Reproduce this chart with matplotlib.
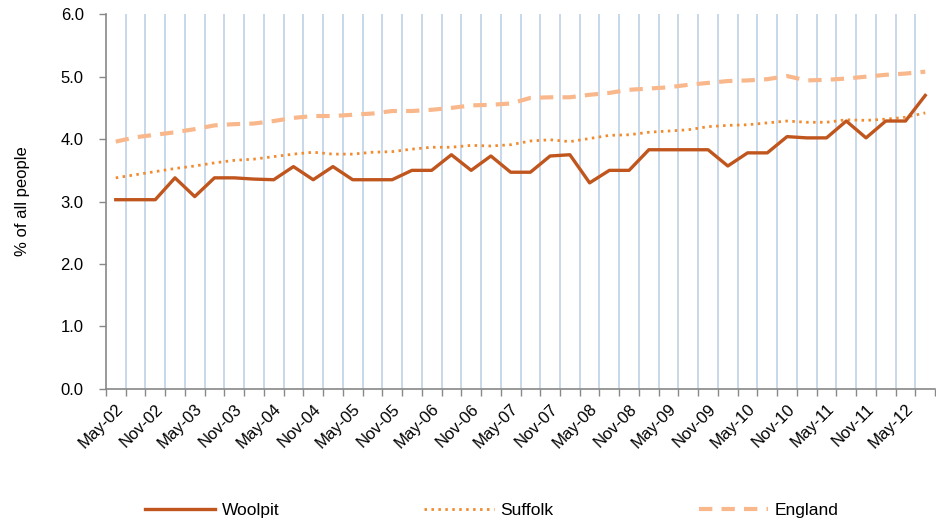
import numpy as np
import matplotlib
matplotlib.use("Agg")
import matplotlib.pyplot as plt
from matplotlib.ticker import FixedLocator, FormatStrFormatter

plt.rcParams['font.family'] = ['Liberation Sans', 'DejaVu Sans']

# quarterly series, May-02 .. Aug-12 (42 quarters)
woolpit = [3.03, 3.03, 3.03, 3.38, 3.08, 3.38, 3.38, 3.36, 3.35, 3.56,
           3.35, 3.56, 3.35, 3.35, 3.35, 3.50, 3.50, 3.75, 3.50, 3.73,
           3.47, 3.47, 3.73, 3.75, 3.30, 3.50, 3.50, 3.83, 3.83, 3.83,
           3.83, 3.57, 3.78, 3.78, 4.04, 4.02, 4.02, 4.29, 4.02, 4.29,
           4.29, 4.70]
suffolk = [3.38, 3.43, 3.48, 3.53, 3.57, 3.62, 3.66, 3.68, 3.72, 3.76,
           3.79, 3.76, 3.76, 3.79, 3.80, 3.84, 3.87, 3.87, 3.90, 3.89,
           3.91, 3.97, 3.99, 3.96, 4.01, 4.06, 4.07, 4.11, 4.13, 4.15,
           4.20, 4.22, 4.23, 4.26, 4.29, 4.27, 4.27, 4.31, 4.30, 4.32,
           4.35, 4.42]
england = [3.96, 4.03, 4.07, 4.11, 4.16, 4.22, 4.24, 4.25, 4.29, 4.34,
           4.37, 4.37, 4.39, 4.41, 4.45, 4.45, 4.47, 4.50, 4.54, 4.55,
           4.57, 4.66, 4.67, 4.67, 4.71, 4.74, 4.79, 4.81, 4.83, 4.87,
           4.90, 4.93, 4.94, 4.96, 5.01, 4.94, 4.95, 4.97, 5.00, 5.03,
           5.05, 5.08]
tick_labels = ['May-02', 'Nov-02', 'May-03', 'Nov-03', 'May-04', 'Nov-04',
               'May-05', 'Nov-05', 'May-06', 'Nov-06', 'May-07', 'Nov-07',
               'May-08', 'Nov-08', 'May-09', 'Nov-09', 'May-10', 'Nov-10',
               'May-11', 'Nov-11', 'May-12']

n = len(woolpit)
x = np.arange(n)

fig = plt.figure(figsize=(9.37, 5.27), dpi=100)
ax = fig.add_axes([0.113, 0.262, 0.885, 0.711])

ax.plot(x, england, color='#F9B88C', lw=3.0, ls=(0, (3.2, 2.2)), label='England', zorder=3)
ax.plot(x, suffolk, color='#F28A2E', lw=2.0, ls=(0, (0.9, 1.6)), label='Suffolk', zorder=4)
ax.plot(x, woolpit, color='#C0561E', lw=2.4, label='Woolpit', zorder=5)

ax.set_xlim(-0.5, n - 0.5)
ax.set_ylim(0, 6)

# category boundaries: ticks + vertical grid
bounds = np.arange(-0.5, n, 1.0)
ax.xaxis.set_major_locator(FixedLocator(bounds))
ax.xaxis.set_minor_locator(FixedLocator(x[::2]))
ax.set_xticklabels([], minor=False)
ax.set_xticklabels(tick_labels, minor=True, rotation=45, ha='right',
                   rotation_mode='anchor', fontsize=12)
ax.tick_params(axis='x', which='major', length=5, color='#888888', width=1)
ax.tick_params(axis='x', which='minor', length=0, pad=9)
for b in bounds[1:-1]:
    ax.axvline(b, color='#C5D5E8', lw=1.3, zorder=1)

ax.set_yticks(np.arange(0, 6.1, 1.0))
ax.yaxis.set_major_formatter(FormatStrFormatter('%.1f'))
ax.tick_params(axis='y', length=5, color='#888888', width=1, labelsize=12, pad=11)
ax.set_ylabel('% of all people', fontsize=12)
ax.yaxis.set_label_coords(-0.092, 0.5)

for s in ['top', 'right']:
    ax.spines[s].set_visible(False)
for s in ['left', 'bottom']:
    ax.spines[s].set_color('#888888')
    ax.spines[s].set_linewidth(1.2)

h, l = ax.get_legend_handles_labels()
order = [2, 1, 0]
fig.legend([h[i] for i in order], [l[i] for i in order], loc='center left',
           bbox_to_anchor=(0.155, 0.032), ncol=3, frameon=False, fontsize=12.5,
           handlelength=4.0, handletextpad=0.4, columnspacing=8.35,
           borderaxespad=0, borderpad=0)

fig.savefig('out.png', dpi=100)
